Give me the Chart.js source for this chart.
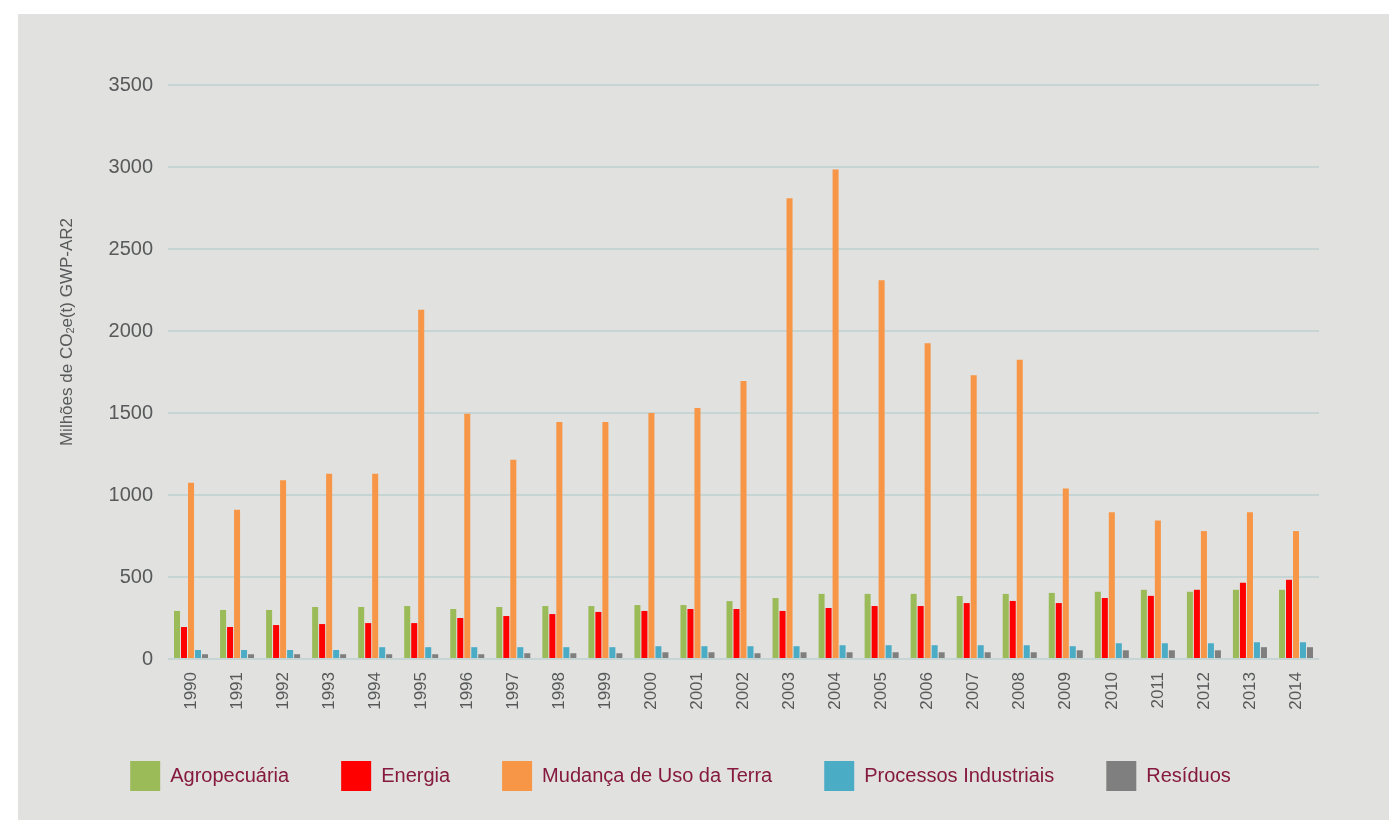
<!DOCTYPE html>
<html>
<head>
<meta charset="utf-8">
<script src="https://cdn.jsdelivr.net/npm/chart.js@4.4.1/dist/chart.umd.min.js"></script>
<style>
  body { margin: 0; background: #ffffff; }
  #panel { position: absolute; left: 18px; top: 14px; width: 1371px; height: 806px; background: #e1e1df; }
</style>
</head>
<body>
<div id="panel"><canvas id="myChart" width="1371" height="806"></canvas></div>
<script>
const years = ['1990', '1991', '1992', '1993', '1994', '1995', '1996', '1997', '1998', '1999', '2000', '2001', '2002',
    '2003', '2004', '2005', '2006', '2007', '2008', '2009', '2010', '2011', '2012', '2013', '2014'];

const agropecuaria = [293, 299, 299, 317, 317, 323, 305, 317, 323, 323, 329, 329, 353, 372, 397, 397, 397, 384, 397, 403, 410, 422, 410, 422, 422];
const energia = [195, 195, 207, 213, 219, 219, 250, 262, 274, 287, 293, 305, 305, 293, 311, 323, 323, 341, 354, 341, 372, 385, 422, 465, 483];
const mudancaUsoTerra = [1075, 910, 1090, 1130, 1130, 2130, 1495, 1215, 1445, 1445, 1500, 1530, 1695, 2810, 2985, 2310, 1925, 1730, 1825, 1040, 895, 845, 780, 895, 780];
const processosIndustriais = [55, 55, 55, 55, 72, 72, 72, 72, 72, 72, 78, 78, 78, 78, 84, 84, 84, 84, 84, 78, 96, 96, 96, 102, 102];
const residuos = [29, 29, 29, 29, 29, 29, 29, 35, 35, 35, 41, 41, 35, 41, 41, 41, 41, 41, 41, 53, 53, 53, 53, 72, 72];

const yTicks = [0, 500, 1000, 1500, 2000, 2500, 3000, 3500];

const fontFamily = "'Liberation Sans', Arial, sans-serif";
const textGray = '#58595b';

// y axis title with a subscript 2
const yTitlePlugin = {
    id: 'yTitle',
    afterDraw(chart) {
        const ctx = chart.ctx;
        const parts = [
            { t: 'Milhões de CO', size: 17, dy: 0 },
            { t: '2', size: 11, dy: 4 },
            { t: 'e(t) GWP-AR2', size: 17, dy: 0 }
        ];
        ctx.save();
        ctx.fillStyle = textGray;
        ctx.textBaseline = 'middle';
        ctx.textAlign = 'left';
        let total = 0;
        parts.forEach(function (p) {
            ctx.font = p.size + 'px ' + fontFamily;
            p.w = ctx.measureText(p.t).width;
            total += p.w;
        });
        ctx.translate(49, 318);
        ctx.rotate(-Math.PI / 2);
        let x = -total / 2;
        parts.forEach(function (p) {
            ctx.font = p.size + 'px ' + fontFamily;
            ctx.fillText(p.t, x, p.dy);
            x += p.w;
        });
        ctx.restore();
    }
};

const data = {
    labels: years,
    datasets: [
        { label: 'Agropecuária', data: agropecuaria, backgroundColor: '#9bbb59' },
        { label: 'Energia', data: energia, backgroundColor: '#ff0000' },
        { label: 'Mudança de Uso da Terra', data: mudancaUsoTerra, backgroundColor: '#f79646' },
        { label: 'Processos Industriais', data: processosIndustriais, backgroundColor: '#4bacc6' },
        { label: 'Resíduos', data: residuos, backgroundColor: '#7f7f7f' }
    ]
};

const config = {
    type: 'bar',
    data: data,
    plugins: [yTitlePlugin],
    options: {
        responsive: false,
        animation: false,
        datasets: {
            bar: { barPercentage: 0.86, categoryPercentage: 0.76 }
        },
        layout: { padding: { left: 24, right: 70, top: 71, bottom: 19 } },
        scales: {
            x: {
                grid: { display: false },
                border: { display: false },
                ticks: {
                    color: textGray,
                    font: { family: fontFamily, size: 17 },
                    minRotation: 90,
                    maxRotation: 90,
                    padding: 5,
                    autoSkip: false
                },
                afterFit: function (scale) { scale.height = 50; }
            },
            y: {
                min: 0,
                max: 3500,
                afterBuildTicks: function (scale) {
                    scale.ticks = yTicks.map(function (v) { return { value: v }; });
                },
                grid: { color: '#c6d4d3', lineWidth: 2, drawTicks: false },
                border: { display: false },
                ticks: {
                    color: textGray,
                    font: { family: fontFamily, size: 20 },
                    padding: 15,
                    callback: function (value) { return String(value); }
                },
                afterFit: function (scale) { scale.width = 126; }
            }
        },
        plugins: {
            legend: {
                display: true,
                position: 'bottom',
                labels: {
                    boxWidth: 30,
                    boxHeight: 30,
                    padding: 52,
                    color: '#85193f',
                    font: { family: fontFamily, size: 20 }
                }
            },
            tooltip: { enabled: false }
        }
    }
};

const myChart = new Chart(document.getElementById('myChart'), config);
</script>
</body>
</html>
